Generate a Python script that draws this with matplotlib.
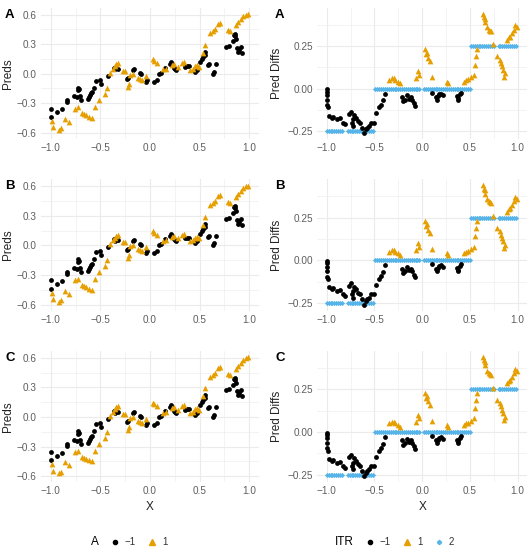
import matplotlib
matplotlib.use("Agg")
import matplotlib.pyplot as plt
from matplotlib.lines import Line2D
from matplotlib.ticker import MultipleLocator, FuncFormatter

plt.rcParams['font.family'] = ['Liberation Sans', 'DejaVu Sans']

# predictions by treatment A (left panels)
pred_x_neg = [-1.0, -1.0, -0.94, -0.89, -0.84, -0.84, -0.77, -0.74, -0.73, -0.73, -0.71, -0.70,
              -0.63, -0.62, -0.60, -0.59, -0.57, -0.54, -0.50, -0.49, -0.42, -0.36, -0.35, -0.32,
              -0.23, -0.22, -0.17, -0.16, -0.10, -0.09, -0.04, -0.03, 0.04, 0.07, 0.09, 0.11,
              0.15, 0.20, 0.21, 0.25, 0.26, 0.37, 0.39, 0.45, 0.47, 0.50, 0.52, 0.55, 0.56,
              0.59, 0.60, 0.64, 0.65, 0.67, 0.77, 0.80, 0.85, 0.86, 0.87, 0.88, 0.89, 0.92, 0.93,
              0.84, 0.86, 0.90, 0.35, 0.53, 0.24, -0.72, -0.61]
pred_y_neg = [-0.44, -0.355, -0.39, -0.36, -0.27, -0.29, -0.23, -0.24, -0.14, -0.17, -0.23, -0.27,
              -0.26, -0.24, -0.20, -0.19, -0.14, -0.07, -0.06, -0.10, -0.02, 0.06, 0.045, 0.05,
              -0.05, -0.04, 0.04, 0.05, 0.01, 0.0, -0.08, -0.06, -0.08, -0.06, 0.0, 0.01,
              0.06, 0.10, 0.12, 0.05, 0.04, 0.08, 0.08, 0.02, 0.04, 0.12, 0.15, 0.19, 0.22,
              0.09, 0.10, 0.0, 0.02, 0.10, 0.27, 0.28, 0.39, 0.38, 0.35, 0.26, 0.22, 0.27, 0.21,
              0.33, 0.40, 0.24, 0.07, 0.17, 0.06, -0.16, -0.22]
pred_x_pos = [-0.99, -0.98, -0.92, -0.90, -0.86, -0.82, -0.76, -0.73, -0.69, -0.65, -0.62, -0.59,
              -0.56, -0.51, -0.45, -0.43, -0.40, -0.37, -0.34, -0.32, -0.27, -0.25, -0.22, -0.21,
              -0.20, -0.17, -0.12, -0.08, -0.04, 0.03, 0.04, 0.07, 0.13, 0.16, 0.22, 0.24,
              0.32, 0.34, 0.40, 0.43, 0.45, 0.47, 0.53, 0.55, 0.61, 0.64, 0.66, 0.69, 0.71,
              0.79, 0.81, 0.87, 0.89, 0.94, 0.97, 0.99,
              -0.67, -0.35, -0.10, 0.28, 0.49, 0.92]
pred_y_pos = [-0.48, -0.545, -0.57, -0.555, -0.46, -0.49, -0.355, -0.34, -0.40, -0.42, -0.44, -0.45,
              -0.34, -0.27, -0.21, -0.15, 0.01, 0.05, 0.10, 0.11, 0.03, 0.03, -0.13, -0.10,
              -0.01, 0.0, -0.04, -0.06, -0.02, 0.145, 0.13, 0.11, 0.045, 0.05, 0.09, 0.10,
              0.11, 0.12, 0.04, 0.05, 0.08, 0.09, 0.21, 0.29, 0.41, 0.43, 0.45, 0.50, 0.51,
              0.44, 0.43, 0.49, 0.52, 0.58, 0.60, 0.605,
              -0.41, 0.08, -0.05, 0.07, 0.07, 0.55]

# prediction differences by ITR (right panels)
diff_x_neg = [-1.0, -1.0, -1.0, -1.0, -1.0, -0.98, -0.95, -0.93, -0.89, -0.86, -0.83, -0.81,
              -0.77, -0.75, -0.74, -0.73, -0.71, -0.69, -0.65, -0.63, -0.61, -0.58, -0.56, -0.54,
              -0.51, -0.48, -0.45, -0.43, -0.41, -0.39, -0.21, -0.20, -0.18, -0.16, -0.12, -0.11,
              -0.09, -0.08, 0.10, 0.14, 0.15, 0.17, 0.20, 0.22, 0.36, 0.38, 0.40, 0.41,
              -0.99, -0.72, -0.67, -0.59, -0.14, 0.18, 0.37]
diff_y_neg = [-0.004, -0.018, -0.037, -0.066, -0.096, -0.16, -0.17, -0.165, -0.18, -0.175, -0.20, -0.21,
              -0.15, -0.135, -0.20, -0.22, -0.155, -0.17, -0.20, -0.23, -0.26, -0.23, -0.22, -0.20,
              -0.20, -0.145, -0.11, -0.095, -0.07, -0.03, -0.05, -0.075, -0.065, -0.04, -0.05, -0.065,
              -0.085, -0.10, -0.025, -0.05, -0.065, -0.045, -0.03, -0.04, -0.045, -0.065, -0.035, -0.025,
              -0.11, -0.18, -0.19, -0.24, -0.06, -0.035, -0.055]
diff_x_pos = [-0.35, -0.32, -0.28, -0.25, -0.23, -0.06, -0.04, -0.03, 0.03, 0.05, 0.06, 0.08,
              0.10, 0.26, 0.27, 0.44, 0.46, 0.48, 0.51, 0.54, 0.55, 0.56, 0.57, 0.64,
              0.66, 0.66, 0.68, 0.70, 0.72, 0.74, 0.78, 0.81, 0.83, 0.84, 0.85, 0.86,
              0.87, 0.89, 0.92, 0.94, 0.96, 0.99,
              -0.30, 0.04, 0.65, 0.71, 0.91, 0.97]
diff_y_pos = [0.05, 0.06, 0.05, 0.04, 0.03, 0.06, 0.10, 0.08, 0.23, 0.21, 0.18, 0.16,
              0.065, 0.04, 0.03, 0.04, 0.05, 0.055, 0.065, 0.08, 0.14, 0.19, 0.23, 0.44,
              0.41, 0.39, 0.36, 0.345, 0.335, 0.26, 0.19, 0.17, 0.15, 0.13, 0.11, 0.07,
              0.09, 0.285, 0.305, 0.325, 0.345, 0.36,
              0.06, 0.20, 0.42, 0.34, 0.30, 0.37]
# ITR = 2 points sit on three levels
diff_x_two_lo = [-1.0, -0.98, -0.96, -0.94, -0.92, -0.90, -0.88, -0.86, -0.84, -0.78, -0.76, -0.74,
                 -0.72, -0.70, -0.68, -0.66, -0.64, -0.62, -0.60, -0.58, -0.56, -0.54, -0.52]
diff_x_two_mid = [-0.49, -0.47, -0.45, -0.43, -0.41, -0.39, -0.37, -0.35, -0.33, -0.31, -0.29, -0.27,
                  -0.25, -0.23, -0.21, -0.19, -0.17, -0.15, -0.13, -0.11, -0.09, -0.07, -0.05, -0.03,
                  0.02, 0.04, 0.06, 0.08, 0.10, 0.12, 0.14, 0.16, 0.18, 0.20, 0.22, 0.24,
                  0.26, 0.28, 0.30, 0.32, 0.34, 0.36, 0.38, 0.40, 0.42, 0.44, 0.46, 0.48, 0.50]
diff_x_two_hi = [0.51, 0.53, 0.55, 0.57, 0.59, 0.61, 0.63, 0.65, 0.67, 0.69, 0.71, 0.73, 0.75,
                 0.80, 0.82, 0.84, 0.86, 0.88, 0.90, 0.92, 0.94, 0.96, 0.98]
diff_levels = [-0.25, 0.0, 0.25]

tags = ['A', 'B', 'C']

BLACK = '#000000'
ORANGE = '#E69F00'
BLUE = '#56B4E9'
GRID = '#EBEBEB'
TICK = '#5E5E5E'

W, H = 530, 557
fig = plt.figure(figsize=(W / 100, H / 100), dpi=100)


def fmt(dec):
    return FuncFormatter(lambda v, p: f"{v:.{dec}f}".replace('-', '\u2212'))


def style(ax, ymajor, yminor, ydec):
    ax.set_facecolor('white')
    for s in ax.spines.values():
        s.set_visible(False)
    ax.xaxis.set_major_locator(MultipleLocator(0.5))
    ax.xaxis.set_minor_locator(MultipleLocator(0.25))
    ax.yaxis.set_major_locator(MultipleLocator(ymajor))
    ax.yaxis.set_minor_locator(MultipleLocator(yminor))
    ax.xaxis.set_major_formatter(fmt(1))
    ax.yaxis.set_major_formatter(fmt(ydec))
    ax.grid(which='major', color=GRID, lw=0.8)
    ax.grid(which='minor', color=GRID, lw=0.4)
    ax.set_axisbelow(True)
    ax.tick_params(which='both', length=0, labelsize=7.2, labelcolor=TICK, pad=3)


row_h = 131.2
for i, tag in enumerate(tags):
    top = 7.6 + i * 171.7
    y0 = 1 - (top + row_h) / H

    # left: predictions
    ax = fig.add_axes([41 / W, y0, 218 / W, row_h / H])
    style(ax, 0.3, 0.15, 1)
    ax.scatter(pred_x_neg, pred_y_neg, s=12, c=BLACK, marker='o', linewidths=0)
    ax.scatter(pred_x_pos, pred_y_pos, s=17, c=ORANGE, marker='^', linewidths=0)
    ax.set_xlim(-1.1, 1.1)
    ax.set_ylim(-0.66, 0.67)
    ax.set_ylabel('Preds', fontsize=8.5, labelpad=2, color='#222222')
    if i == 2:
        ax.set_xlabel('X', fontsize=8.5, labelpad=3, color='#222222')
    fig.text(5 / W, 1 - (top + 7) / H, tag, fontsize=9.5, fontweight='bold', va='center', ha='left')

    # right: prediction differences
    ax = fig.add_axes([317.2 / W, y0, 210 / W, row_h / H])
    style(ax, 0.25, 0.125, 2)
    ax.scatter(diff_x_two_lo, [diff_levels[0]] * len(diff_x_two_lo), s=7, c=BLUE, marker='D', linewidths=0)
    ax.scatter(diff_x_two_mid, [diff_levels[1]] * len(diff_x_two_mid), s=7, c=BLUE, marker='D', linewidths=0)
    ax.scatter(diff_x_two_hi, [diff_levels[2]] * len(diff_x_two_hi), s=7, c=BLUE, marker='D', linewidths=0)
    ax.scatter(diff_x_neg, diff_y_neg, s=12, c=BLACK, marker='o', linewidths=0)
    ax.scatter(diff_x_pos, diff_y_pos, s=17, c=ORANGE, marker='^', linewidths=0)
    ax.set_xlim(-1.1, 1.1)
    ax.set_ylim(-0.295, 0.475)
    ax.set_ylabel('Pred Diffs', fontsize=8.5, labelpad=3, color='#222222')
    if i == 2:
        ax.set_xlabel('X', fontsize=8.5, labelpad=3, color='#222222')
    fig.text(275 / W, 1 - (top + 7) / H, tag, fontsize=9.5, fontweight='bold', va='center', ha='left')

# legends
blank = Line2D([], [], linestyle='none')
h_neg = Line2D([], [], linestyle='none', marker='o', color=BLACK, markersize=3)
h_pos = Line2D([], [], linestyle='none', marker='^', color=ORANGE, markersize=3.8)
h_two = Line2D([], [], linestyle='none', marker='D', color=BLUE, markersize=2.2)

leg_kw = dict(frameon=False, handlelength=0.8, handletextpad=0.6, columnspacing=1.3,
              borderpad=0, borderaxespad=0, fontsize=7, loc='center left')
leg1 = fig.legend([blank, h_neg, h_pos], ['A', '\u22121', '1'], ncol=3,
                  bbox_to_anchor=(77 / W, 1 - 542 / H), **leg_kw)
leg1.get_texts()[0].set_fontsize(8.5)
leg2 = fig.legend([blank, h_neg, h_pos, h_two], ['ITR', '\u22121', '1', '2'], ncol=4,
                  bbox_to_anchor=(321 / W, 1 - 542 / H), **leg_kw)
leg2.get_texts()[0].set_fontsize(8.5)
for leg in (leg1, leg2):
    for t in leg.get_texts()[1:]:
        t.set_color('#333333')

fig.savefig('out.png', dpi=100, facecolor='white')
